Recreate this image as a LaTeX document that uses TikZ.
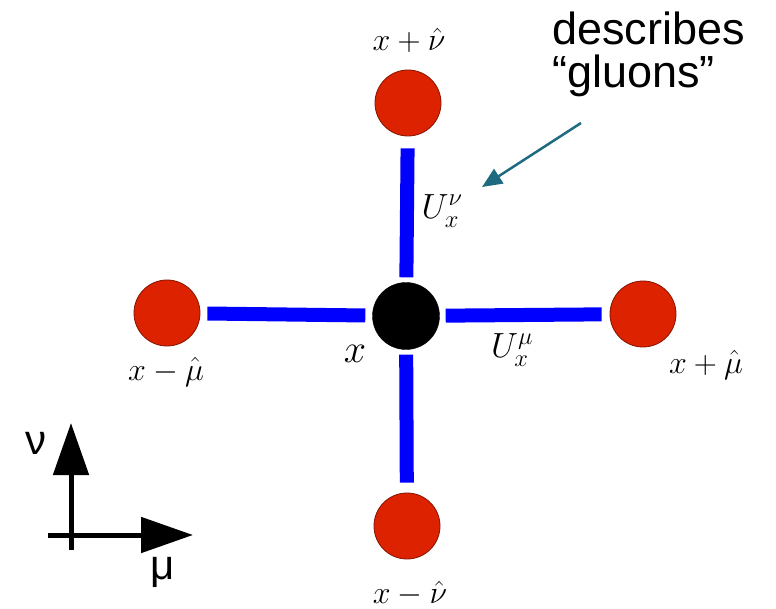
\RequirePackage{fix-cm}
\documentclass[tikz,border=0pt]{standalone}
\usepackage{fontspec}
\newfontfamily\arial{Liberation Sans}
\usetikzlibrary{arrows.meta}
\definecolor{sitered}{HTML}{DD2200}
\definecolor{barblue}{HTML}{0000FF}
\definecolor{teal}{HTML}{1E6A80}
\tikzset{
  site/.style={circle,fill=sitered,draw=sitered!60!black,line width=0.8pt,minimum size=66pt,inner sep=0pt},
  centre/.style={circle,fill=black,draw=black,minimum size=67pt,inner sep=0pt},
  bar/.style={barblue,line width=14pt},
  mlabel/.style={font=\fontsize{32}{38}\selectfont,inner sep=0pt},
  ulabel/.style={font=\fontsize{35}{40}\selectfont,inner sep=0pt},
  slabel/.style={font=\arial\fontsize{45}{52}\selectfont,inner sep=0pt,anchor=base west},
  axis/.style={line width=5pt,-{Triangle[length=52pt,width=35pt]}},
  callout/.style={teal,line width=2.5pt,-{Triangle[length=20pt,width=17pt]}}
}
\begin{document}
\begin{tikzpicture}[x=1pt,y=-1pt]
\useasboundingbox (0,0) rectangle (776,609);
% sites
\node[centre] (c) at (406,316) {};
\node[site] (t) at (408,103) {};
\node[site] (l) at (167,313) {};
\node[site] (r) at (643,314) {};
\node[site] (b) at (407,526) {};
% links
\draw[bar,shorten <=5pt,shorten >=12pt] (c) -- (t);
\draw[bar,shorten <=7pt,shorten >=7pt] (c) -- (l);
\draw[bar,shorten <=6pt,shorten >=8pt] (c) -- (r);
\draw[bar,shorten <=5pt,shorten >=10pt] (c) -- (b);
% labels
\node[mlabel] (lt) at (409,40) {$x+\hat{\nu}$};
\node[mlabel] (ll) at (166,372) {$x-\hat{\mu}$};
\node[mlabel] (lr) at (706,365) {$x+\hat{\mu}$};
\node[mlabel] (lb) at (410,594) {$x-\hat{\nu}$};
\node[font=\fontsize{40}{46}\selectfont,inner sep=0pt] (lc) at (355,354) {$x$};
\node[ulabel] (un) at (442,211) {$U_{x}^{\nu}$};
\node[ulabel] (um) at (512,350) {$U_{x}^{\mu}$};
% callout
\node[slabel] (d1) at (552,45) {describes};
\node[slabel] (d2) at (552,88) {“gluons”};
\coordinate (cs) at (581,123);
\coordinate (ce) at (482,187);
\draw[callout] (cs) -- (ce);
% axes
\coordinate (vy0) at (71,550);
\coordinate (vy1) at (71,423);
\coordinate (hx0) at (48,535);
\coordinate (hx1) at (193,535);
\draw[axis] (vy0) -- (vy1);
\draw[axis] (hx0) -- (hx1);
\node[font=\arial\fontsize{42}{50}\selectfont,inner sep=0pt] (nu) at (36,443) {ν};
\node[font=\arial\fontsize{42}{50}\selectfont,inner sep=0pt] (mu) at (163,572) {μ};
\end{tikzpicture}
\end{document}
